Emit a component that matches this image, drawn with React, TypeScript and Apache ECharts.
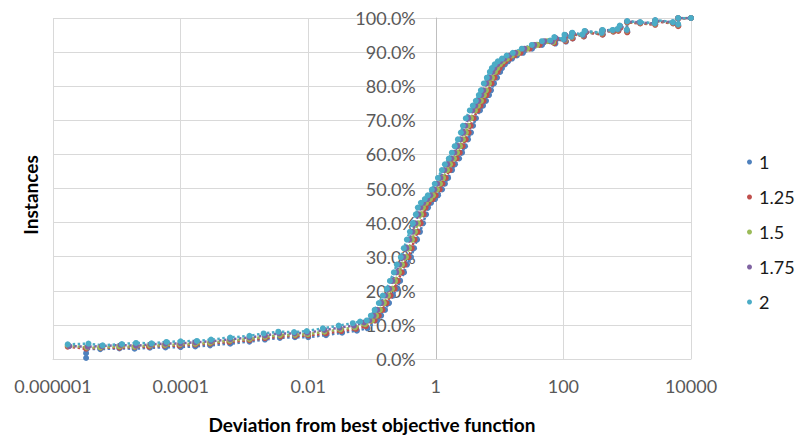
import React, { useEffect, useRef } from 'react';
import * as echarts from 'echarts';

const seriesNames = ['1', '1.25', '1.5', '1.75', '2'];
const colors = ['#4F81BD', '#C0504D', '#9BBB59', '#8064A2', '#4BACC6'];
const xTickLabels = ['0.000001', '0.0001', '0.01', '1', '100', '10000'];

const s1: number[][] = [
  [3.3e-6, 0.003], [3.3e-6, 0.017], [3.4e-6, 0.030], [5.5e-6, 0.029], [1.1e-5, 0.031], [1.9e-5, 0.030],
  [3.3e-5, 0.033], [5.8e-5, 0.034], [1e-4, 0.035], [1.7e-4, 0.037], [2.9e-4, 0.040], [6e-4, 0.045],
  [1.2e-3, 0.051], [2.1e-3, 0.057], [3.6e-3, 0.062], [6.2e-3, 0.064], [0.01, 0.064], [0.019, 0.070],
  [0.034, 0.077], [0.058, 0.083], [0.085, 0.090],
  [0.12, 0.113], [0.139, 0.127], [0.16, 0.144], [0.185, 0.164], [0.214, 0.186], [0.247, 0.206],
  [0.276, 0.229], [0.318, 0.254], [0.354, 0.277], [0.409, 0.299], [0.456, 0.325], [0.509, 0.35],
  [0.566, 0.373], [0.631, 0.398], [0.703, 0.424], [0.756, 0.444], [0.842, 0.458], [0.973, 0.469],
  [1.085, 0.48], [1.254, 0.497], [1.39, 0.514], [1.56, 0.531], [1.8, 0.554], [2.0, 0.571],
  [2.32, 0.588], [2.58, 0.605], [2.87, 0.624], [3.2, 0.644], [3.56, 0.664], [3.84, 0.684],
  [4.27, 0.706], [4.93, 0.729], [5.5, 0.743], [6.13, 0.757], [6.83, 0.774], [7.34, 0.788],
  [8.18, 0.808], [9.12, 0.825], [10.2, 0.842], [10.9, 0.853], [12.1, 0.864], [13.6, 0.873],
  [15.7, 0.881], [18.7, 0.89], [23.3, 0.898], [32.3, 0.91], [46.2, 0.921], [66.4, 0.932],
  [75, 0.925], [78, 0.938], [110, 0.931], [110, 0.946], [140, 0.94], [142, 0.953], [210, 0.946],
  [225, 0.958], [415, 0.952], [415, 0.962], [610, 0.961], [730, 0.964], [785, 0.973], [1005, 0.96],
  [1005, 0.988], [1610, 0.985], [2760, 0.982], [2760, 0.991], [5260, 0.985], [6320, 0.978],
  [6320, 0.999], [10000, 1.0],
];

const s125: number[][] = [
  [1.7e-6, 0.036], [3.3e-6, 0.030], [5.6e-6, 0.033], [1.1e-5, 0.033], [1.9e-5, 0.035], [3.2e-5, 0.036],
  [5.6e-5, 0.039], [9.6e-5, 0.039], [1.7e-4, 0.042], [2.9e-4, 0.045], [5.8e-4, 0.050], [1.2e-3, 0.055],
  [2.1e-3, 0.061], [3.7e-3, 0.066], [6.3e-3, 0.068], [0.01, 0.069], [0.019, 0.075], [0.033, 0.082],
  [0.056, 0.088], [0.08, 0.096],
  [0.11, 0.113], [0.128, 0.127], [0.146, 0.144], [0.169, 0.164], [0.196, 0.186], [0.227, 0.206],
  [0.253, 0.229], [0.292, 0.254], [0.325, 0.277], [0.375, 0.299], [0.418, 0.325], [0.466, 0.35],
  [0.519, 0.373], [0.579, 0.398], [0.645, 0.424], [0.693, 0.444], [0.772, 0.458], [0.892, 0.469],
  [0.994, 0.48], [1.15, 0.497], [1.276, 0.514], [1.43, 0.531], [1.65, 0.554], [1.837, 0.571],
  [2.12, 0.588], [2.37, 0.605], [2.63, 0.624], [2.94, 0.644], [3.27, 0.664], [3.52, 0.684],
  [3.92, 0.706], [4.52, 0.729], [5.04, 0.743], [5.62, 0.757], [6.26, 0.774], [6.73, 0.788],
  [7.5, 0.808], [8.36, 0.825], [9.32, 0.842], [10.0, 0.853], [11.1, 0.864], [12.4, 0.873],
  [14.4, 0.881], [17.2, 0.89], [21.3, 0.898], [29.6, 0.91], [42.4, 0.921], [60.8, 0.932],
  [72, 0.926], [76, 0.939], [108, 0.932], [108, 0.947], [139, 0.94], [139, 0.953], [208, 0.946],
  [222, 0.958], [410, 0.951], [410, 0.962], [605, 0.96], [725, 0.962], [780, 0.972], [1000, 0.958],
  [1000, 0.987], [1600, 0.984], [2750, 0.98], [2750, 0.99], [5250, 0.984], [6300, 0.976],
  [6300, 0.998], [10000, 1.0],
];

const s15: number[][] = [
  [1.7e-6, 0.040], [3.4e-6, 0.034], [5.5e-6, 0.034], [1.1e-5, 0.037], [1.9e-5, 0.036], [3.3e-5, 0.040],
  [5.7e-5, 0.041], [9.8e-5, 0.043], [1.7e-4, 0.045], [2.9e-4, 0.048], [5.9e-4, 0.054], [1.2e-3, 0.059],
  [2.1e-3, 0.065], [3.6e-3, 0.070], [6.2e-3, 0.071], [0.0099, 0.073], [0.018, 0.080], [0.032, 0.087],
  [0.054, 0.093], [0.078, 0.102],
  [0.1, 0.113], [0.116, 0.127], [0.133, 0.144], [0.154, 0.164], [0.178, 0.186], [0.206, 0.206],
  [0.23, 0.229], [0.265, 0.254], [0.295, 0.277], [0.341, 0.299], [0.38, 0.325], [0.424, 0.35],
  [0.472, 0.373], [0.526, 0.398], [0.586, 0.424], [0.63, 0.444], [0.702, 0.458], [0.811, 0.469],
  [0.904, 0.48], [1.045, 0.497], [1.16, 0.514], [1.3, 0.531], [1.5, 0.554], [1.67, 0.571],
  [1.93, 0.588], [2.15, 0.605], [2.39, 0.624], [2.67, 0.644], [2.97, 0.664], [3.2, 0.684],
  [3.56, 0.706], [4.11, 0.729], [4.58, 0.743], [5.11, 0.757], [5.69, 0.774], [6.12, 0.788],
  [6.82, 0.808], [7.6, 0.825], [8.47, 0.842], [9.1, 0.853], [10.1, 0.864], [11.3, 0.873],
  [13.1, 0.881], [15.6, 0.89], [19.4, 0.898], [26.9, 0.91], [38.5, 0.921], [55.3, 0.932],
  [69, 0.929], [74, 0.941], [106, 0.935], [106, 0.949], [136, 0.944], [136, 0.955], [203, 0.949],
  [219, 0.96], [403, 0.955], [403, 0.963], [598, 0.963], [716, 0.966], [771, 0.975], [993, 0.963],
  [993, 0.989], [1590, 0.986], [2730, 0.983], [2730, 0.992], [5220, 0.986], [6250, 0.98],
  [6250, 1.0], [10000, 1.0],
];

const s175: number[][] = [
  [1.8e-6, 0.038], [3.5e-6, 0.036], [5.8e-6, 0.038], [1.15e-5, 0.041], [2e-5, 0.039], [3.4e-5, 0.043],
  [5.8e-5, 0.045], [1e-4, 0.046], [1.7e-4, 0.049], [3e-4, 0.052], [6e-4, 0.058], [1.2e-3, 0.063],
  [2.1e-3, 0.069], [3.5e-3, 0.075], [6.1e-3, 0.075], [0.0097, 0.077], [0.018, 0.085], [0.031, 0.092],
  [0.052, 0.098], [0.075, 0.107],
  [0.091, 0.113], [0.106, 0.127], [0.121, 0.144], [0.14, 0.164], [0.162, 0.186], [0.187, 0.206],
  [0.209, 0.229], [0.241, 0.254], [0.268, 0.277], [0.31, 0.299], [0.346, 0.325], [0.386, 0.35],
  [0.43, 0.373], [0.479, 0.398], [0.533, 0.424], [0.573, 0.444], [0.639, 0.458], [0.738, 0.469],
  [0.823, 0.48], [0.951, 0.497], [1.056, 0.514], [1.183, 0.531], [1.365, 0.554], [1.52, 0.571],
  [1.756, 0.588], [1.957, 0.605], [2.175, 0.624], [2.43, 0.644], [2.7, 0.664], [2.91, 0.684],
  [3.24, 0.706], [3.74, 0.729], [4.17, 0.743], [4.65, 0.757], [5.18, 0.774], [5.57, 0.788],
  [6.21, 0.808], [6.92, 0.825], [7.71, 0.842], [8.28, 0.853], [9.19, 0.864], [10.3, 0.873],
  [11.9, 0.881], [14.2, 0.89], [17.7, 0.898], [24.5, 0.91], [35, 0.921], [50.3, 0.932],
  [66, 0.931], [75, 0.942], [104, 0.936], [107, 0.95], [134, 0.945], [137, 0.956], [205, 0.95],
  [220, 0.961], [400, 0.956], [405, 0.964], [600, 0.964], [720, 0.967], [775, 0.976], [990, 0.964],
  [995, 0.99], [1580, 0.987], [2720, 0.984], [2740, 0.993], [5230, 0.987], [6240, 0.981],
  [6260, 1.0], [10000, 1.0],
];

const s2: number[][] = [
  [1.7e-6, 0.043], [3.6e-6, 0.045], [6e-6, 0.040], [1.2e-5, 0.044], [2e-5, 0.047], [3.5e-5, 0.046],
  [6e-5, 0.050], [1e-4, 0.052], [1.8e-4, 0.053], [3e-4, 0.057], [6e-4, 0.063], [1.2e-3, 0.068],
  [2e-3, 0.075], [3.4e-3, 0.080], [6e-3, 0.079], [0.0095, 0.082], [0.017, 0.090], [0.03, 0.098],
  [0.05, 0.105], [0.065, 0.110],
  [0.083, 0.113], [0.096, 0.127], [0.11, 0.144], [0.128, 0.164], [0.148, 0.186], [0.171, 0.206],
  [0.191, 0.229], [0.22, 0.254], [0.245, 0.277], [0.283, 0.299], [0.315, 0.325], [0.352, 0.35],
  [0.392, 0.373], [0.437, 0.398], [0.486, 0.424], [0.523, 0.444], [0.583, 0.458], [0.673, 0.469],
  [0.75, 0.48], [0.867, 0.497], [0.963, 0.514], [1.08, 0.531], [1.245, 0.554], [1.386, 0.571],
  [1.6, 0.588], [1.785, 0.605], [1.98, 0.624], [2.22, 0.644], [2.47, 0.664], [2.66, 0.684],
  [2.95, 0.706], [3.41, 0.729], [3.8, 0.743], [4.24, 0.757], [4.72, 0.774], [5.08, 0.788],
  [5.66, 0.808], [6.31, 0.825], [7.03, 0.842], [7.55, 0.853], [8.38, 0.864], [9.38, 0.873],
  [10.9, 0.881], [12.9, 0.89], [16.1, 0.898], [22.3, 0.91], [32, 0.921], [46, 0.932],
  [62, 0.934], [72, 0.944], [100, 0.938], [104, 0.951], [132, 0.946], [138, 0.957], [198, 0.952],
  [215, 0.962], [395, 0.957], [410, 0.965], [590, 0.965], [705, 0.968], [765, 0.978], [985, 0.966],
  [1000, 0.991], [1600, 0.988], [2700, 0.985], [2750, 0.994], [5200, 0.988], [6300, 0.982],
  [6300, 1.0], [10000, 1.0],
];

const seriesData = [s1, s125, s15, s175, s2];

export default function App() {
  const ref = useRef<HTMLDivElement>(null);
  useEffect(() => {
    if (!ref.current) return;
    const chart = echarts.init(ref.current, undefined, { renderer: 'svg' });
    const gridLeft = 53;
    const gridRight = 104;
    const plotWidth = 795 - gridLeft - gridRight;
    chart.setOption({
      animation: false,
      backgroundColor: '#ffffff',
      grid: { left: gridLeft, right: gridRight, top: 18, bottom: 67, containLabel: false },
      legend: {
        orient: 'vertical',
        left: 742,
        top: 147,
        itemGap: 15,
        itemWidth: 5,
        itemHeight: 5,
        icon: 'circle',
        data: seriesNames,
        textStyle: { color: '#1a1a1a', fontSize: 18, fontFamily: 'Lato', lineHeight: 20, padding: [0, 0, 0, 2] },
      },
      xAxis: {
        type: 'log',
        logBase: 10,
        min: 1e-6,
        max: 1e4,
        interval: 2,
        name: 'Deviation from best objective function',
        nameLocation: 'middle',
        nameGap: 56,
        nameTextStyle: { fontSize: 19, fontWeight: 'bold', color: '#000', fontFamily: 'Lato' },
        axisLine: { show: true, lineStyle: { color: '#D9D9D9', width: 1 } },
        axisTick: { show: false },
        minorTick: { show: false },
        axisLabel: {
          color: '#595959',
          fontSize: 18,
          fontFamily: 'Lato',
          margin: 18,
          formatter: (v: number) => {
            const e = Math.round(Math.log10(v));
            const idx = (e + 6) / 2;
            return Number.isInteger(idx) && xTickLabels[idx] ? xTickLabels[idx] : '';
          },
        },
        splitLine: { show: true, lineStyle: { color: '#D9D9D9', width: 1 } },
      },
      yAxis: {
        type: 'value',
        min: 0,
        max: 1,
        interval: 0.1,
        position: 'left',
        offset: -plotWidth * 0.6,
        axisLine: { show: true, lineStyle: { color: '#BFBFBF', width: 1 } },
        axisTick: { show: false },
        axisLabel: {
          color: '#595959',
          fontSize: 18,
          fontFamily: 'Lato',
          margin: 20,
          formatter: (v: number) => (v * 100).toFixed(1) + '%',
        },
        splitLine: { show: true, lineStyle: { color: '#D9D9D9', width: 1 } },
      },
      graphic: [
        {
          type: 'text',
          x: 30,
          y: 195,
          rotation: Math.PI / 2,
          style: {
            text: 'Instances',
            fontSize: 19,
            fontWeight: 'bold',
            fontFamily: 'Lato',
            fill: '#000',
            align: 'center',
            verticalAlign: 'middle',
          },
        },
      ],
      series: seriesNames.map((name, i) => ({
        name,
        type: 'line',
        data: seriesData[i],
        symbol: 'circle',
        symbolSize: 6,
        showSymbol: true,
        clip: true,
        color: colors[i],
        itemStyle: { color: colors[i] },
        lineStyle: { color: colors[i], width: 2.5, type: 'dotted' },
        emphasis: { disabled: true },
      })),
    });
    return () => chart.dispose();
  }, []);
  return <div ref={ref} style={{ position: 'fixed', left: 0, top: 0, width: 795, height: 439 }} />;
}
